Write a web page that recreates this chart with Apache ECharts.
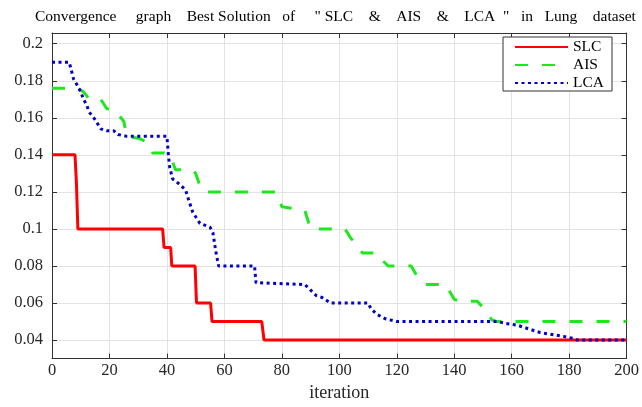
<!DOCTYPE html>
<html>
<head>
<meta charset="utf-8">
<script src="https://cdn.jsdelivr.net/npm/echarts@6/dist/echarts.min.js"></script>
<style>html,body{margin:0;padding:0;background:#fff;}#c{width:642px;height:407px;}</style>
</head>
<body>
<div id="c"></div>
<script>
const titleText = 'Convergence     graph    Best Solution   of     " SLC    &    AIS    &    LCA  "   in   Lung    dataset';
const xName = 'iteration';
const seriesNames = ['SLC', 'AIS', 'LCA'];
const xTicks = [0, 20, 40, 60, 80, 100, 120, 140, 160, 180, 200];
const yTicks = [0.04, 0.06, 0.08, 0.1, 0.12, 0.14, 0.16, 0.18, 0.2];

const slcIter  = [0, 8, 8.5, 9, 38.5, 39, 41.3, 41.7, 49.8, 50.3, 55.2, 55.7, 73, 73.8, 200];
const slcValue = [0.14, 0.14, 0.125, 0.1, 0.1, 0.09, 0.09, 0.08, 0.08, 0.06, 0.06, 0.05, 0.05, 0.04, 0.04];

const aisIter  = [0, 9, 11, 13, 17, 19, 22, 25, 26, 30, 33, 35, 39, 41, 42, 43, 49, 50, 52, 53, 78, 80, 88, 90, 102, 104, 106, 108, 113, 115, 117, 125, 128, 130, 137, 140, 142, 148, 151, 153, 155, 200];
const aisValue = [0.176, 0.176, 0.174, 0.17, 0.17, 0.165, 0.164, 0.158, 0.15, 0.149, 0.147, 0.141, 0.141, 0.14, 0.136, 0.132, 0.132, 0.13, 0.121, 0.12, 0.12, 0.112, 0.11, 0.1, 0.1, 0.095, 0.092, 0.087, 0.087, 0.083, 0.08, 0.08, 0.072, 0.07, 0.07, 0.062, 0.061, 0.061, 0.056, 0.051, 0.05, 0.05];

const lcaIter  = [0, 6, 6.5, 7.5, 9, 10, 11, 12, 13, 15, 17, 19, 21.5, 23, 26, 40, 40.5, 41, 42, 44.5, 46.5, 47.5, 49, 51.5, 55, 56, 57, 58, 70.5, 71, 88, 90, 92, 94, 96, 97, 110, 111, 113, 116, 120, 155, 158, 162, 166, 170, 174, 178, 181, 183, 200];
const lcaValue = [0.19, 0.19, 0.187, 0.181, 0.177, 0.174, 0.17, 0.167, 0.163, 0.159, 0.154, 0.153, 0.153, 0.151, 0.15, 0.15, 0.14, 0.133, 0.127, 0.124, 0.121, 0.116, 0.109, 0.103, 0.101, 0.098, 0.088, 0.08, 0.08, 0.071, 0.07, 0.067, 0.064, 0.063, 0.061, 0.06, 0.06, 0.057, 0.054, 0.0515, 0.05, 0.05, 0.049, 0.048, 0.046, 0.044, 0.043, 0.042, 0.041, 0.04, 0.04];

function pairs(xs, ys) { return xs.map((x, i) => [x, ys[i]]); }

const FONT = 'Liberation Serif';
const axisColor = '#333';
const gridColor = '#e3e3e3';
const yMin = 0.03, yMax = 0.2058;

const chart = echarts.init(document.getElementById('c'), null, { renderer: 'canvas' });
chart.setOption({
  animation: false,
  backgroundColor: '#fff',
  title: {
    text: titleText,
    left: 30,
    top: 4,
    textStyle: { fontFamily: FONT, fontWeight: 'normal', fontSize: 15.5, color: '#000' }
  },
  legend: {
    orient: 'vertical',
    left: 503,
    top: 37,
    padding: [2, 8, 0, 11],
    itemGap: 2,
    itemWidth: 53,
    itemHeight: 14,
    backgroundColor: '#fff',
    borderColor: '#333',
    borderWidth: 1,
    borderRadius: 0,
    itemStyle: { opacity: 0 },
    textStyle: { fontFamily: FONT, fontSize: 15.5, color: '#000' },
    data: seriesNames
  },
  grid: { left: 52, right: 13, top: 33, bottom: 40, containLabel: false },
  xAxis: [{
    type: 'value', min: 0, max: 200, interval: 20,
    name: xName, nameLocation: 'middle', nameGap: 20,
    nameTextStyle: { fontFamily: FONT, fontSize: 18, color: '#262626' },
    axisLine: { show: true, onZero: false, lineStyle: { color: axisColor, width: 1 } },
    axisTick: { show: true, inside: true, length: 5, lineStyle: { color: axisColor } },
    axisLabel: { fontFamily: FONT, fontSize: 16.5, color: '#262626', margin: 3.5 },
    splitLine: { show: true, lineStyle: { color: gridColor, width: 1 } }
  }, {
    type: 'value', min: 0, max: 200, interval: 20, position: 'top',
    axisLine: { show: true, onZero: false, lineStyle: { color: axisColor, width: 1 } },
    axisTick: { show: true, inside: true, length: 5, lineStyle: { color: axisColor } },
    axisLabel: { show: false },
    splitLine: { show: false }
  }],
  yAxis: [{
    type: 'value', min: yMin, max: yMax,
    axisLine: { show: true, onZero: false, lineStyle: { color: axisColor, width: 1 } },
    axisTick: { show: true, inside: true, length: 5, customValues: yTicks, lineStyle: { color: axisColor } },
    axisLabel: { fontFamily: FONT, fontSize: 16.5, color: '#262626', margin: 9, customValues: yTicks },
    splitLine: { show: true, lineStyle: { color: gridColor, width: 1 } }
  }, {
    type: 'value', min: yMin, max: yMax, position: 'right',
    axisLine: { show: true, onZero: false, lineStyle: { color: axisColor, width: 1 } },
    axisTick: { show: true, inside: true, length: 5, customValues: yTicks, lineStyle: { color: axisColor } },
    axisLabel: { show: false },
    splitLine: { show: false }
  }],
  series: [{
    name: seriesNames[0], type: 'line', xAxisIndex: 0, yAxisIndex: 0,
    data: pairs(slcIter, slcValue), symbol: 'none',
    itemStyle: { color: '#f00' },
    lineStyle: { color: '#f00', width: 3 }
  }, {
    name: seriesNames[1], type: 'line', xAxisIndex: 0, yAxisIndex: 0,
    data: pairs(aisIter, aisValue), symbol: 'none',
    itemStyle: { color: '#1de81d' },
    lineStyle: { color: '#1de81d', width: 3, type: [13, 14], cap: 'butt' }
  }, {
    name: seriesNames[2], type: 'line', xAxisIndex: 0, yAxisIndex: 0,
    data: pairs(lcaIter, lcaValue), symbol: 'none',
    itemStyle: { color: '#0000cc' },
    lineStyle: { color: '#0000cc', width: 3, type: [3, 3.5], cap: 'butt' }
  }]
});
</script>
</body>
</html>
